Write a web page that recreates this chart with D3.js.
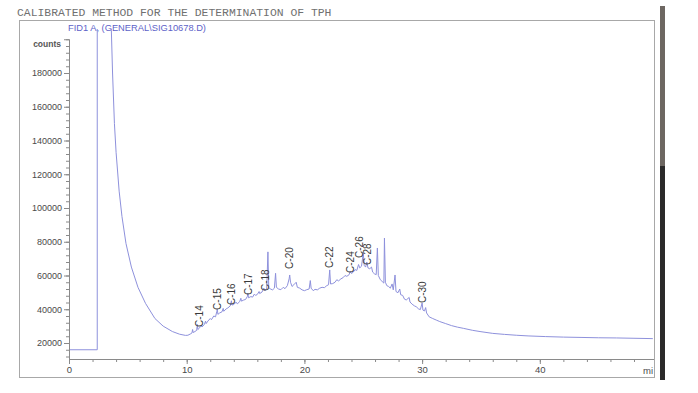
<!DOCTYPE html>
<html>
<head>
<meta charset="utf-8">
<script src="https://cdn.jsdelivr.net/npm/d3@7"></script>
<style>
  body { margin: 0; background: #fff; }
  svg { display: block; font-family: "Liberation Sans", Arial, sans-serif; }
</style>
</head>
<body>
<script>
// chart texts
const title = "CALIBRATED METHOD FOR THE DETERMINATION OF TPH";
const signalName = "FID1 A, (GENERAL\\SIG10678.D)";
const yUnit = "counts";
const xUnit = "mi";

// axis ticks
const yMajorTicks = [20000, 40000, 60000, 80000, 100000, 120000, 140000, 160000, 180000];
const yMinorTicks = d3.range(12000, 200001, 4000);
const xMajorTicks = [0, 10, 20, 30, 40];
const xMinorTicks = d3.range(0, 49, 2);

// labelled n-alkane peaks (retention time in min, label foot in counts)
const peakNames = ["C-14", "C-15", "C-16", "C-17", "C-18", "C-20", "C-22", "C-24", "C-26", "C-28", "C-30"];
const peakTimes = [11.06, 12.59, 13.81, 15.22, 16.72, 18.76, 22.16, 23.91, 24.64, 25.32, 30.03];
const peakLabelCounts = [29500, 39600, 42500, 48400, 50800, 63900, 64400, 61500, 70400, 66200, 43700];

// detector trace: [time (min), counts]
const signal = [
  [0, 16000], [2.4, 16000], [2.4, 300000], [3.55, 300000], [3.6, 205000], [3.7, 180000],
  [3.86, 150000], [4.0, 133000], [4.26, 110000], [4.5, 95000], [4.84, 79000], [5.3, 65000],
  [5.86, 53000], [6.5, 43500], [7.3, 34500], [8.0, 30000], [8.78, 26800], [9.4, 25200],
  [9.9, 24500], [10.1, 24600], [10.3, 25300], [10.45, 26000], [10.5, 28000], [10.55, 26200],
  [10.7, 26800], [10.85, 27500], [10.9, 31000], [10.95, 28000], [11.1, 29000], [11.2, 30500],
  [11.3, 29500], [11.5, 31000], [11.6, 33000], [11.65, 31500], [11.8, 33000], [12.0, 34500],
  [12.1, 33800], [12.3, 36000], [12.45, 35500], [12.55, 38500], [12.6, 40000], [12.65, 37000],
  [12.8, 37800], [13.0, 38500], [13.1, 40500], [13.15, 38800], [13.35, 40200], [13.5, 40800],
  [13.7, 42000], [13.8, 45000], [13.85, 42500], [14.0, 42800], [14.2, 44200], [14.3, 43200],
  [14.5, 44500], [14.6, 46500], [14.65, 44800], [14.85, 45500], [15.0, 45800], [15.15, 47500],
  [15.2, 49500], [15.25, 46800], [15.45, 47500], [15.6, 47200], [15.75, 49000], [15.85, 48200],
  [16.0, 48800], [16.15, 50500], [16.2, 49300], [16.4, 50200], [16.55, 52500], [16.65, 51000],
  [16.8, 52500], [16.9, 74000], [16.97, 53000], [17.1, 52000], [17.3, 51500], [17.45, 52500],
  [17.55, 61300], [17.62, 53000], [17.8, 52000], [18.0, 51600], [18.2, 53000], [18.35, 52200],
  [18.55, 54000], [18.7, 58000], [18.75, 60300], [18.82, 56000], [18.95, 53500], [19.1, 54500],
  [19.3, 56000], [19.4, 53000], [19.6, 52500], [19.8, 51500], [20.0, 51000], [20.2, 51600],
  [20.4, 52000], [20.5, 57000], [20.57, 52500], [20.75, 51000], [20.9, 51800], [21.1, 51500],
  [21.3, 52500], [21.5, 53000], [21.7, 52800], [21.9, 54000], [22.05, 54500], [22.15, 63300],
  [22.22, 55000], [22.4, 55200], [22.6, 56000], [22.75, 57500], [22.9, 56800], [23.1, 58000],
  [23.3, 58800], [23.45, 60000], [23.6, 59500], [23.8, 60500], [23.9, 62500], [24.0, 61200],
  [24.15, 62000], [24.3, 63500], [24.45, 63000], [24.6, 66500], [24.7, 64500], [24.85, 65500],
  [25.0, 73300], [25.08, 66000], [25.2, 65000], [25.3, 68000], [25.4, 64500], [25.55, 64000],
  [25.7, 65000], [25.8, 62000], [25.95, 61000], [26.1, 60500], [26.2, 76300], [26.28, 60000],
  [26.45, 57500], [26.6, 56500], [26.75, 55500], [26.8, 82200], [26.88, 56000], [27.0, 54000],
  [27.15, 53500], [27.3, 52500], [27.45, 55000], [27.55, 51500], [27.7, 60300], [27.78, 50500],
  [27.95, 49800], [28.1, 52000], [28.18, 48600], [28.35, 48200], [28.5, 46000], [28.65, 45500],
  [28.9, 47000], [28.97, 44300], [29.15, 43000], [29.35, 42000], [29.5, 41500], [29.7, 40200],
  [29.85, 39800], [30.0, 43700], [30.07, 39500], [30.2, 39000], [30.3, 41000], [30.38, 37800],
  [30.6, 35500], [30.9, 34500], [31.2, 33600], [31.5, 32700], [32.0, 31500], [32.5, 30300],
  [33.0, 29400], [33.5, 28700], [34.3, 27500], [35.0, 26700], [36.0, 25700], [37.0, 25100],
  [38.0, 24600], [39.0, 24200], [40.5, 23800], [42.0, 23500], [43.5, 23300], [45.0, 23100],
  [46.5, 23000], [48.0, 22800], [49.6, 22600]
];

const width = 698;
const height = 393;
const plotLeft = 69, plotRight = 654, plotTop = 29, plotBottom = 359;

const x = d3.scaleLinear().domain([0, 49.7]).range([plotLeft, plotRight]);
const y = d3.scaleLinear().domain([0, 200000]).range([376.75, 39.25]);

const svg = d3.select("body").append("svg")
  .attr("width", width)
  .attr("height", height);

// scan edge on the right
svg.append("rect").attr("x", 660).attr("y", 6).attr("width", 5).attr("height", 160).attr("fill", "#6d6762");
svg.append("rect").attr("x", 660).attr("y", 166).attr("width", 5).attr("height", 214).attr("fill", "#2b2a2a");

// report frame
svg.append("rect")
  .attr("x", 19.5).attr("y", 20.5)
  .attr("width", plotRight - 19).attr("height", 357)
  .attr("fill", "none").attr("stroke", "#a8a8a8").attr("stroke-width", 1);

svg.append("text")
  .attr("x", 17).attr("y", 16)
  .attr("font-family", "'Liberation Mono', 'DejaVu Sans Mono', monospace")
  .attr("font-size", 11.4)
  .attr("fill", "#707070")
  .text(title);

svg.append("text")
  .attr("x", 68).attr("y", 31)
  .attr("font-size", 9.3)
  .attr("fill", "#5d62c8")
  .text(signalName);

// trace
svg.append("clipPath").attr("id", "plot-clip")
  .append("rect")
  .attr("x", plotLeft).attr("y", plotTop)
  .attr("width", plotRight - plotLeft).attr("height", plotBottom - plotTop);

const line = d3.line().x(d => x(d[0])).y(d => y(d[1]));

svg.append("path")
  .datum(signal)
  .attr("clip-path", "url(#plot-clip)")
  .attr("fill", "none")
  .attr("stroke", "#8e91dc")
  .attr("stroke-width", 1)
  .attr("stroke-linejoin", "round")
  .attr("d", line);

// y axis
const yMinor = svg.append("g")
  .attr("transform", `translate(${plotLeft},0)`)
  .call(d3.axisLeft(y).tickValues(yMinorTicks).tickSize(3).tickFormat(""));
const yMajor = svg.append("g")
  .attr("transform", `translate(${plotLeft},0)`)
  .call(d3.axisLeft(y).tickValues(yMajorTicks.concat([200000])).tickSize(5)
    .tickFormat(d => d === 200000 ? "" : d));
[yMinor, yMajor].forEach(g => {
  g.select(".domain").remove();
  g.selectAll("line").attr("stroke", "#8a8a8a");
});
yMajor.selectAll("text")
  .attr("x", -7)
  .attr("font-size", 9)
  .attr("font-family", "'Liberation Sans', Arial, sans-serif")
  .attr("fill", "#4a4a4a");

svg.append("line")
  .attr("x1", plotLeft + 0.5).attr("x2", plotLeft + 0.5)
  .attr("y1", y(200000)).attr("y2", plotBottom)
  .attr("stroke", "#8a8a8a");

svg.append("text")
  .attr("x", 61).attr("y", 47)
  .attr("text-anchor", "end")
  .attr("font-size", 8.5)
  .attr("font-weight", "bold")
  .attr("fill", "#555")
  .text(yUnit);

// x axis
const xMinor = svg.append("g")
  .attr("transform", `translate(0,${plotBottom})`)
  .call(d3.axisBottom(x).tickValues(xMinorTicks).tickSize(3).tickFormat(""));
const xMajor = svg.append("g")
  .attr("transform", `translate(0,${plotBottom})`)
  .call(d3.axisBottom(x).tickValues(xMajorTicks).tickSize(5));
[xMinor, xMajor].forEach(g => {
  g.select(".domain").remove();
  g.selectAll("line").attr("stroke", "#8a8a8a");
});
xMajor.selectAll("text")
  .attr("y", 7)
  .attr("font-size", 9.5)
  .attr("font-family", "'Liberation Sans', Arial, sans-serif")
  .attr("fill", "#4a4a4a");

svg.append("line")
  .attr("x1", plotLeft).attr("x2", plotRight)
  .attr("y1", plotBottom + 0.5).attr("y2", plotBottom + 0.5)
  .attr("stroke", "#8a8a8a");

svg.append("text")
  .attr("x", 653).attr("y", 374)
  .attr("text-anchor", "end")
  .attr("font-size", 9.5)
  .attr("fill", "#4a4a4a")
  .text(xUnit);

// peak labels
svg.append("g").selectAll("text")
  .data(peakNames)
  .enter()
  .append("text")
  .attr("transform", (d, i) => `translate(${x(peakTimes[i])},${y(peakLabelCounts[i])}) rotate(-90)`)
  .attr("dy", "0.35em")
  .attr("font-size", 10)
  .attr("fill", "#3a3a3a")
  .text(d => d);
</script>
</body>
</html>
